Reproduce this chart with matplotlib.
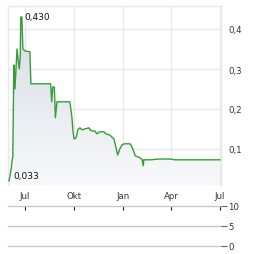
import numpy as np
import matplotlib
matplotlib.use("Agg")
import matplotlib.pyplot as plt
import matplotlib.dates as mdates

# price series
dates = [
    "2023-06-01", "2023-06-05", "2023-06-07", "2023-06-08", "2023-06-10",
    "2023-06-12", "2023-06-16", "2023-06-20", "2023-06-22", "2023-06-23",
    "2023-06-25", "2023-06-27", "2023-07-01", "2023-07-10", "2023-07-12",
    "2023-08-18", "2023-08-20", "2023-08-22", "2023-08-25", "2023-08-27",
    "2023-08-30", "2023-09-23", "2023-09-25", "2023-09-27", "2023-09-29",
    "2023-10-01", "2023-10-05", "2023-10-08", "2023-10-12", "2023-10-16",
    "2023-10-21", "2023-10-29", "2023-10-31", "2023-11-04", "2023-11-09",
    "2023-11-13", "2023-11-18", "2023-11-26", "2023-11-30", "2023-12-07",
    "2023-12-15", "2023-12-18", "2023-12-22", "2023-12-26", "2023-12-30",
    "2024-01-03", "2024-01-14", "2024-01-16", "2024-01-20", "2024-01-24",
    "2024-02-02", "2024-02-06", "2024-02-08", "2024-02-09", "2024-02-21",
    "2024-03-10", "2024-03-29", "2024-04-07", "2024-05-06", "2024-05-25",
    "2024-07-01",
]
prices = [
    0.020, 0.050, 0.075, 0.078, 0.310,
    0.250, 0.350, 0.300, 0.330, 0.430,
    0.430, 0.350, 0.345, 0.343, 0.263,
    0.263, 0.218, 0.255, 0.255, 0.178,
    0.218, 0.218, 0.200, 0.180, 0.145,
    0.125, 0.128, 0.148, 0.153, 0.148,
    0.150, 0.153, 0.148, 0.145, 0.145,
    0.138, 0.143, 0.143, 0.138, 0.135,
    0.125, 0.108, 0.085, 0.100, 0.110,
    0.113, 0.113, 0.110, 0.098, 0.083,
    0.078, 0.073, 0.058, 0.073, 0.073,
    0.075, 0.075, 0.073, 0.073, 0.073,
    0.073,
]
max_label = "0,430"
min_label = "0,033"

tick_dates = ["2023-07-01", "2023-10-01", "2024-01-01", "2024-04-01", "2024-07-01"]
tick_names = ["Jul", "Okt", "Jan", "Apr", "Jul"]
price_ticks = [0.1, 0.2, 0.3, 0.4]
price_tick_names = ["0,1", "0,2", "0,3", "0,4"]
vol_ticks = [0, 5, 10]

x = mdates.datestr2num(dates)
xt = mdates.datestr2num(tick_dates)
xlim = (mdates.datestr2num("2023-05-30"), mdates.datestr2num("2024-07-03"))
ylim = (0.01, 0.4575)

W, H = 264, 255
fig = plt.figure(figsize=(W / 100, H / 100), dpi=100)

txt = "#333333"
fs = 6.2

# main price panel
ax = fig.add_axes([8 / W, 1 - 186 / H, 213 / W, 179 / H])

poly = ax.fill_between(x, prices, 0, color="none", lw=0)
grad = np.linspace(0, 1, 256).reshape(-1, 1)
cmap = matplotlib.colors.LinearSegmentedColormap.from_list("g", ["#f8f9fb", "#d3dbe2"])
im = ax.imshow(grad, cmap=cmap, aspect="auto", extent=[xlim[0], xlim[1], ylim[0], ylim[1]],
               origin="lower", zorder=1)
im.set_clip_path(poly.get_paths()[0], transform=ax.transData)
ax.set_ylim(ylim)
ax.set_xlim(xlim)

ax.plot(x, prices, color="#3a9a3a", lw=1.0, zorder=3)

ax.set_xticks(xt)
ax.set_xticklabels(tick_names)
ax.set_yticks(price_ticks)
ax.set_yticklabels(price_tick_names)
ax.yaxis.tick_right()
ax.tick_params(axis="both", length=0, labelsize=fs, labelcolor=txt)
ax.tick_params(axis="x", pad=4)
ax.tick_params(axis="y", pad=5)
ax.grid(True, color="#e8e8e8", lw=1)
ax.set_axisbelow(True)
for s in ax.spines.values():
    s.set_color("#e8e8e8")
    s.set_linewidth(1)
ax.spines["bottom"].set_visible(False)

i_max = int(np.argmax(prices))
ax.text(x[i_max] + 6, 0.432, max_label, fontsize=6.5, color="#111111", va="center", ha="left")
ax.text(x[0] + 9, 0.033, min_label, fontsize=6.5, color="#111111", va="center", ha="left")

# volume panel (empty)
vx = fig.add_axes([8 / W, 1 - 247 / H, 213 / W, 40 / H])
vx.set_xlim(xlim)
vx.set_ylim(0, 10)
vx.set_yticks(vol_ticks)
vx.yaxis.tick_right()
vx.grid(True, axis="y", color="#c8c8c8", lw=1)
for gl in vx.get_ygridlines():
    gl.set_clip_on(False)
vx.tick_params(axis="y", length=4, width=0.8, color="#666666", labelsize=fs,
               labelcolor=txt, pad=1)
vx.set_xticks(xt)
vx.xaxis.tick_top()
vx.tick_params(axis="x", length=3, width=0.8, color="#222222", direction="in",
               labeltop=False, labelbottom=False)
for s in vx.spines.values():
    s.set_visible(False)

fig.savefig("out.png", dpi=100)
